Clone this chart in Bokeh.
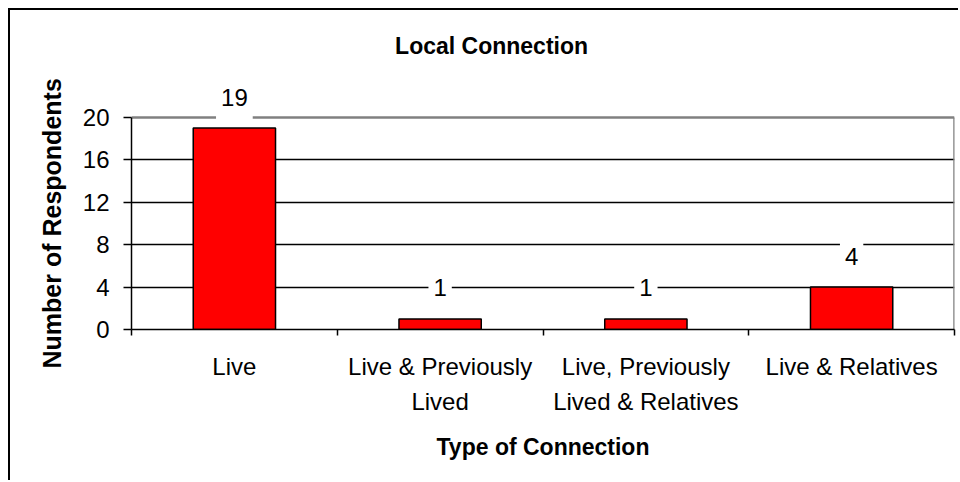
from bokeh.plotting import figure
from bokeh.models import (Range1d, FixedTicker, ColumnDataSource, Label, Title)
from bokeh.core.properties import value
from bokeh.embed import file_html
from bokeh.resources import INLINE

categories = ["Live", "Live & Previously\nLived", "Live, Previously\nLived & Relatives", "Live & Relatives"]
respondents = [19, 1, 1, 4]
y_ticks = [0, 4, 8, 12, 16, 20]
y_max = 20
title_text = "Local Connection"
y_title = "Number of Respondents"
x_title = "Type of Connection"

FONT = "Liberation Sans"

n = len(categories)
xs = [i + 0.5 for i in range(n)]
src = ColumnDataSource(dict(x=xs, top=respondents, lab=[str(v) for v in respondents]))

# frame spans page y 20..329; 20 units = 212 px
px_per_unit = 212 / y_max
y_top = (329 - 20) / px_per_unit

p = figure(width=950, height=472, output_backend="svg", toolbar_location=None,
           x_range=Range1d(0, n), y_range=Range1d(0, y_top),
           min_border_left=121, min_border_right=6, min_border_top=10, min_border_bottom=153)
p.styles = {"border-top": "2px solid black", "border-left": "2px solid black",
            "margin-top": "8px", "margin-left": "8px"}
p.background_fill_color = "white"
p.border_fill_color = "white"
p.outline_line_color = None

p.vbar(x="x", top="top", width=0.4, bottom=0, source=src,
       fill_color="#FF0000", line_color="black", line_width=1.5)

# plot-area border (gray top and right), drawn before the labels so they cover it
p.segment(x0=[0, n], y0=[y_max, 0], x1=[n, n], y1=[y_max, y_max],
          line_color="#808080", line_width=2.5)

# data labels with white boxes that break the gridlines
p.text(x="x", y="top", text="lab", source=src, y_offset=-26,
       text_align="center", text_baseline="middle",
       text_font=value(FONT), text_font_size="24px", text_color="black",
       background_fill_color="white", border_line_color=None,
       padding=dict(left=5, right=5, top=6, bottom=16))

# axes
p.xaxis.ticker = FixedTicker(ticks=xs, minor_ticks=list(range(n + 1)))
p.xaxis.major_label_overrides = {x: c for x, c in zip(xs, categories)}
p.xaxis.major_tick_line_color = None
p.xaxis.major_tick_out = 0
p.xaxis.major_tick_in = 0
p.xaxis.minor_tick_out = 6
p.xaxis.minor_tick_in = 0
p.xaxis.minor_tick_line_color = "black"
p.xaxis.minor_tick_line_width = 1.5
p.xaxis.axis_line_color = "black"
p.xaxis.axis_line_width = 1.5
p.xaxis.major_label_text_font = FONT
p.xaxis.major_label_text_font_size = "24px"
p.xaxis.major_label_text_color = "black"
p.xaxis.major_label_text_line_height = 1.3
p.xaxis.major_label_standoff = 17
p.xaxis.axis_label = x_title
p.xaxis.axis_label_text_font = FONT
p.xaxis.axis_label_text_font_style = "bold"
p.xaxis.axis_label_text_font_size = "23px"
p.xaxis.axis_label_text_color = "black"
p.xaxis.axis_label_standoff = 16

p.yaxis.ticker = FixedTicker(ticks=y_ticks, minor_ticks=[])
p.yaxis.bounds = (0, y_max)
p.yaxis.major_tick_out = 8
p.yaxis.major_tick_in = 0
p.yaxis.major_tick_line_width = 1.5
p.yaxis.axis_line_width = 1.5
p.yaxis.major_label_text_font = FONT
p.yaxis.major_label_text_font_size = "24px"
p.yaxis.major_label_text_color = "black"
p.yaxis.major_label_standoff = 14

p.xgrid.visible = False
p.ygrid.ticker = FixedTicker(ticks=[4, 8, 12, 16])
p.ygrid.grid_line_color = "black"
p.ygrid.grid_line_width = 1.5

p.add_layout(Label(x=1.75, y=(329 - 45) / px_per_unit, text=title_text,
                   text_align="center", text_baseline="middle",
                   text_font=FONT, text_font_style="bold", text_font_size="23px",
                   text_color="black"))

ytitle = Title(text=y_title, align="left", offset=-39, vertical_align="bottom",
               standoff=28, text_font=FONT, text_font_style="bold",
               text_font_size="25px", text_color="black")
p.add_layout(ytitle, "left")

open("out.html", "w").write(file_html(p, INLINE))
